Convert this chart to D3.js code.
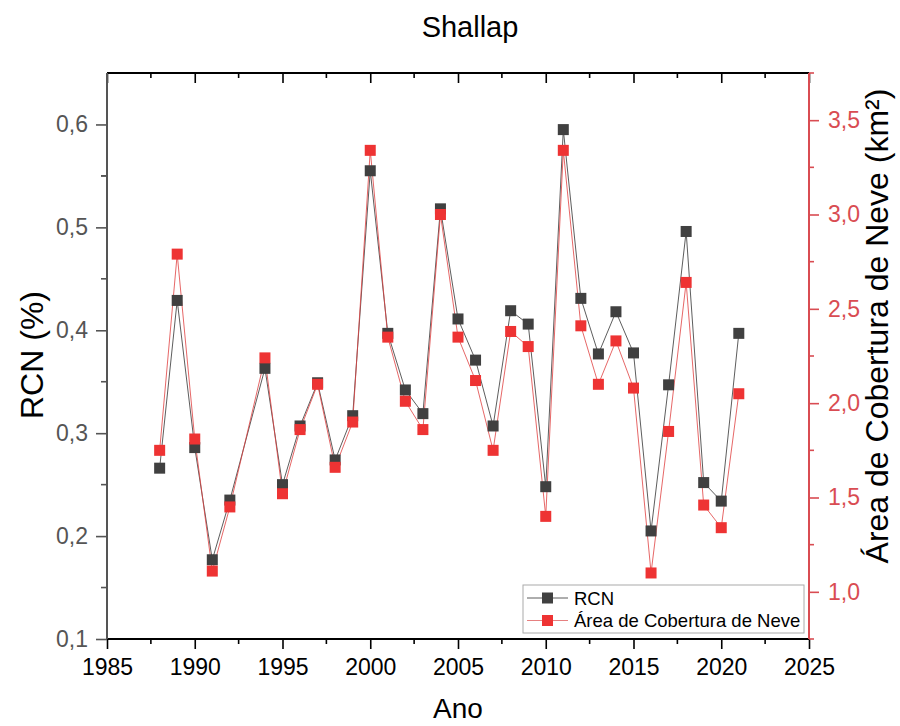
<!DOCTYPE html>
<html>
<head>
<meta charset="utf-8">
<script src="https://cdn.jsdelivr.net/npm/d3@7"></script>
<style>
	body{margin:0;background:#fff;}
	text{font-family:Arial, "Liberation Sans", sans-serif;}
</style>
</head>
<body>
<div class="container"></div>
<script>
//Shallap: RCN and snow cover area per year
const years = [1988,1989,1990,1991,1992,1994,1995,1996,1997,1998,1999,2000,2001,2002,2003,2004,2005,2006,2007,2008,2009,2010,2011,2012,2013,2014,2015,2016,2017,2018,2019,2020,2021];
const rcn = [0.266,0.429,0.286,0.177,0.235,0.363,0.250,0.307,0.349,0.274,0.317,0.555,0.397,0.342,0.319,0.518,0.411,0.371,0.307,0.419,0.406,0.248,0.595,0.431,0.377,0.418,0.378,0.205,0.347,0.496,0.252,0.234,0.397];
const area = [1.75,2.79,1.81,1.11,1.45,2.24,1.52,1.86,2.10,1.66,1.90,3.34,2.35,2.01,1.86,3.00,2.35,2.12,1.75,2.38,2.30,1.40,3.34,2.41,2.10,2.33,2.08,1.10,1.85,2.64,1.46,1.34,2.05];
const xTicks = [1985,1990,1995,2000,2005,2010,2015,2020,2025];
const yLeftTicks = [0.1,0.2,0.3,0.4,0.5,0.6];
const yRightTicks = [1.0,1.5,2.0,2.5,3.0,3.5];

const W = 900, H = 726;
const margin = {t:73, r:91, b:87, l:107};
const w = W - margin.l - margin.r;
const h = H - margin.t - margin.b;

const black = '#404040', red = '#ee3333', axisRed = '#d94c52';
const fmt = d3.format('.1f');
const comma = function(d){ return fmt(d).replace('.', ','); };

const svg = d3.select('.container')
	.append('svg')
	.attr('width', W)
	.attr('height', H);

const plot = svg.append('g')
	.attr('transform', `translate(${margin.l}, ${margin.t})`);

const x = d3.scaleLinear().domain([1985, 2025]).range([0, w]);
const yL = d3.scaleLinear().domain([0.1, 0.65]).range([h, 0]);
const yR = d3.scaleLinear().domain([0.75, 3.75]).range([h, 0]);

function minorOf(ticks, step){
	return ticks.map(function(t){ return t + step/2; });
}

//bottom axis: outward ticks
const xAxis = plot.append('g')
	.attr('transform', `translate(0, ${h})`)
	.call(d3.axisBottom(x).tickValues(xTicks).tickFormat(d3.format('d')).tickSize(10).tickPadding(10));
xAxis.selectAll('.tick line').attr('stroke', '#000').attr('stroke-width', 1.6);
xAxis.append('g').selectAll('line')
	.data(minorOf(xTicks.slice(0, -1), 5))
	.enter().append('line')
	.attr('x1', function(d){ return x(d); })
	.attr('x2', function(d){ return x(d); })
	.attr('y1', 0).attr('y2', 5)
	.attr('stroke', '#000').attr('stroke-width', 1.6);
xAxis.selectAll('text').attr('font-size', 23).attr('fill', '#000');

//top axis: inward ticks, no labels
const topAxis = plot.append('g')
	.call(d3.axisBottom(x).tickValues(xTicks).tickFormat('').tickSize(10));
topAxis.selectAll('.tick line').attr('stroke', '#000').attr('stroke-width', 1.6);
topAxis.append('g').selectAll('line')
	.data(minorOf(xTicks.slice(0, -1), 5))
	.enter().append('line')
	.attr('x1', function(d){ return x(d); })
	.attr('x2', function(d){ return x(d); })
	.attr('y1', 0).attr('y2', 5)
	.attr('stroke', '#000').attr('stroke-width', 1.6);

//left axis
const leftAxis = plot.append('g')
	.call(d3.axisLeft(yL).tickValues(yLeftTicks).tickFormat(comma).tickSize(11).tickPadding(8));
leftAxis.selectAll('.tick line').attr('stroke', '#555').attr('stroke-width', 1.6);
leftAxis.append('g').selectAll('line')
	.data(minorOf(yLeftTicks.slice(0, -1), 0.1).concat([0.55]))
	.enter().append('line')
	.attr('y1', function(d){ return yL(d); })
	.attr('y2', function(d){ return yL(d); })
	.attr('x1', 0).attr('x2', -6)
	.attr('stroke', '#555').attr('stroke-width', 1.6);
leftAxis.selectAll('text').attr('font-size', 23).attr('fill', '#555');

//right axis
const rightAxis = plot.append('g')
	.attr('transform', `translate(${w}, 0)`)
	.call(d3.axisRight(yR).tickValues(yRightTicks).tickFormat(comma).tickSize(10).tickPadding(9));
rightAxis.selectAll('.tick line').attr('stroke', axisRed).attr('stroke-width', 1.6);
rightAxis.append('g').selectAll('line')
	.data(minorOf([0.5].concat(yRightTicks), 0.5))
	.enter().append('line')
	.attr('y1', function(d){ return yR(d); })
	.attr('y2', function(d){ return yR(d); })
	.attr('x1', 0).attr('x2', 5)
	.attr('stroke', axisRed).attr('stroke-width', 1.6);
rightAxis.selectAll('text').attr('font-size', 23).attr('fill', axisRed);

//frame lines
plot.selectAll('.domain').remove();
plot.append('line').attr('x1', 0).attr('x2', w).attr('y1', 0).attr('y2', 0)
	.attr('stroke', '#000').attr('stroke-width', 2);
plot.append('line').attr('x1', 0).attr('x2', w).attr('y1', h).attr('y2', h)
	.attr('stroke', '#000').attr('stroke-width', 2);
plot.append('line').attr('x1', 0).attr('x2', 0).attr('y1', 0).attr('y2', h)
	.attr('stroke', '#555').attr('stroke-width', 2);
plot.append('line').attr('x1', w).attr('x2', w).attr('y1', 0).attr('y2', h)
	.attr('stroke', axisRed).attr('stroke-width', 2);

//series
const rcnData = years.map(function(d, i){ return {year: d, v: rcn[i]}; });
const areaData = years.map(function(d, i){ return {year: d, v: area[i]}; });

const lineL = d3.line().x(function(d){ return x(d.year); }).y(function(d){ return yL(d.v); });
const lineR = d3.line().x(function(d){ return x(d.year); }).y(function(d){ return yR(d.v); });

plot.append('path').datum(rcnData)
	.attr('d', lineL).attr('fill', 'none').attr('stroke', '#333').attr('stroke-width', 0.8);
plot.append('path').datum(areaData)
	.attr('d', lineR).attr('fill', 'none').attr('stroke', '#e04040').attr('stroke-width', 0.8);

const s = 11;
plot.selectAll('.rcn').data(rcnData)
	.enter().append('rect').attr('class', 'rcn')
	.attr('x', function(d){ return x(d.year) - s/2; })
	.attr('y', function(d){ return yL(d.v) - s/2; })
	.attr('width', s).attr('height', s)
	.attr('fill', black);
plot.selectAll('.area').data(areaData)
	.enter().append('rect').attr('class', 'area')
	.attr('x', function(d){ return x(d.year) - s/2; })
	.attr('y', function(d){ return yR(d.v) - s/2; })
	.attr('width', s).attr('height', s)
	.attr('fill', red);

//legend
const legend = svg.append('g').attr('transform', 'translate(523, 585)');
legend.append('rect').attr('width', 281).attr('height', 48)
	.attr('fill', '#fff').attr('stroke', '#aaa').attr('stroke-width', 1);
const entries = [{name:'RCN', line:'#333', fill:black}, {name:'Área de Cobertura de Neve', line:'#e06060', fill:red}];
entries.forEach(function(e, i){
	const gy = 13 + i*22.5;
	legend.append('line').attr('x1', 4).attr('x2', 45).attr('y1', gy).attr('y2', gy)
		.attr('stroke', e.line).attr('stroke-width', 0.8);
	legend.append('rect').attr('x', 24.5 - 5.5).attr('y', gy - 5.5).attr('width', 11).attr('height', 11)
		.attr('fill', e.fill);
	legend.append('text').attr('x', 51).attr('y', gy + 6.5).attr('font-size', 18.5)
		.text(e.name);
});

//titles
svg.append('text').attr('x', 470).attr('y', 37).attr('text-anchor', 'middle')
	.attr('font-size', 29).text('Shallap');
svg.append('text').attr('x', margin.l + w/2).attr('y', 718).attr('text-anchor', 'middle')
	.attr('font-size', 28).text('Ano');
svg.append('text').attr('transform', `translate(43, ${margin.t + h/2 - 1}) rotate(-90)`)
	.attr('text-anchor', 'middle').attr('font-size', 32).text('RCN (%)');
svg.append('text').attr('transform', `translate(888, ${margin.t + h/2 - 30}) rotate(-90)`)
	.attr('text-anchor', 'middle').attr('font-size', 32).text('Área de Cobertura de Neve (km²)');
</script>
</body>
</html>
